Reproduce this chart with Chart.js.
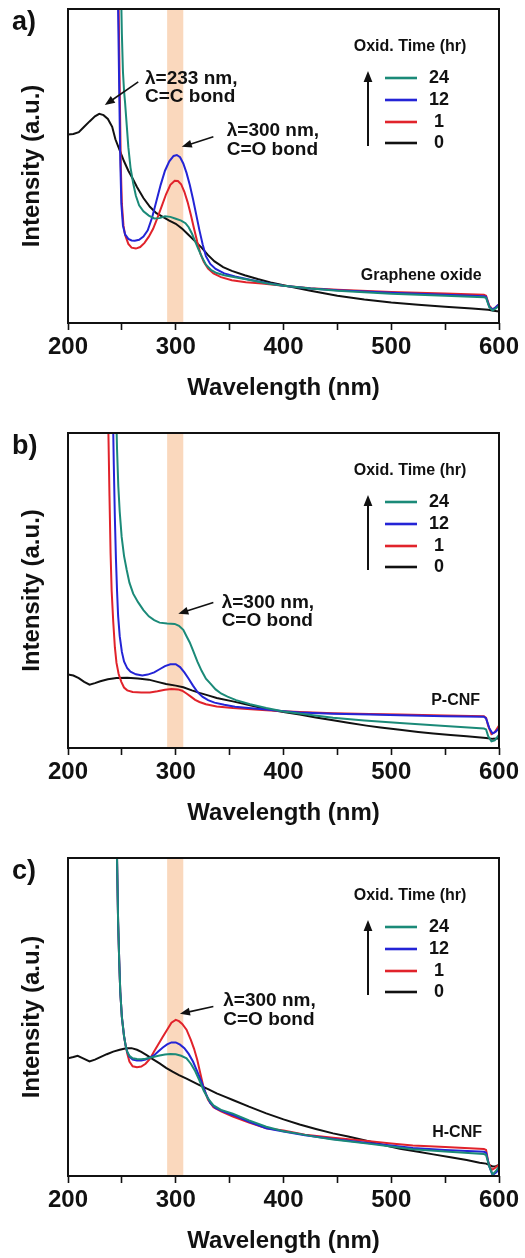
<!DOCTYPE html>
<html>
<head>
<meta charset="utf-8">
<title>UV-vis spectra</title>
<script src="https://cdn.jsdelivr.net/npm/chart.js@4.4.1/dist/chart.umd.min.js"></script>
<style>
  html, body { margin: 0; padding: 0; background: #fff; }
  body { position: relative; width: 525px; height: 1258px; overflow: hidden; }
  .panel { position: absolute; left: 0; width: 525px; }
</style>
</head>
<body>
<div class="panel" style="top:0px"><canvas id="chartA" width="525" height="420"></canvas></div>
<div class="panel" style="top:420px"><canvas id="chartB" width="525" height="420"></canvas></div>
<div class="panel" style="top:840px"><canvas id="chartC" width="525" height="418"></canvas></div>
<script>
/* 산화 시간별 UV-vis 흡수 스펙트럼 : [파장(nm), 세기(a.u.)] */
var oxidTimes = ['24', '12', '1', '0'];
var lineColors = ['#1b8a78', '#2424d6', '#e1232b', '#111111'];

var majorTicks = [200, 300, 400, 500, 600];
var minorTicks = [250, 350, 450, 550];
var bandNm = [292, 307];

// a) Graphene oxide
var goT24 = [[248,140],[249,110],[250,92],[251,80],[252,74],[253,70],[254.5,63],[256,56],[258,49.5],[260.5,44.5],[263,40.5],[266,37.5],[270,35.6],[275,34.2],[280,33.3],[285,33.4],[290,34],[295,33.8],[300,33.2],[305,32.6],[309,31.8],[312,30.5],[315,28.5],[318,26],[321,23.5],[324,21.2],[328,18.6],[333,16.8],[338,15.9],[345,15.2],[355,14.6],[370,13.6],[385,12.6],[400,11.9],[425,11.0],[450,10.3],[500,9.3],[550,8.7],[586,8.2],[588,8.0],[591,5],[594,4.0],[597,4.6],[600,5.5]];
var goT12 = [[245.5,140],[246.5,100],[247.5,75],[248.5,52],[249.5,38],[251,31],[253,28.2],[256,26.8],[259,26.3],[262,26.2],[266,26.5],[270,27.5],[274,29.5],[278,33.5],[282,38.8],[286,44],[290,48.5],[294,51.5],[298,53.2],[301,53.5],[304,52.8],[307,50.8],[310,47.8],[313,44],[316,39.5],[319,34.5],[322,29.5],[325,25],[328,21.3],[332,18.8],[337,17.2],[345,15.8],[355,14.8],[370,13.7],[385,12.7],[400,11.9],[425,11.0],[450,10.4],[500,9.6],[550,9.0],[586,8.5],[588,8.3],[591,5.2],[594,4.3],[597,5],[600,6]];
var goT1 = [[246,140],[247,100],[248,75],[249,50],[250,38],[251.5,31],[253,28],[256,25.2],[259,24],[263,23.7],[267,24.2],[271,25.5],[275,27.5],[279,30],[283,33.5],[287,37.2],[291,41],[295,44],[299,45.3],[302,45.2],[305,44.2],[308,41.8],[311,38.5],[314,34.5],[317,30],[320,25.8],[323,22],[326,19.5],[330,17.3],[335,15.8],[342,14.6],[352,13.6],[365,13],[380,12.6],[400,11.9],[425,11.1],[450,10.6],[500,9.9],[550,9.4],[586,9.0],[588,8.7],[591,5.5],[594,4.3],[597,5],[600,6]];
var goT0 = [[200,60.0],[205,60.2],[210,60.8],[215,62.5],[220,64.2],[225,65.8],[229,66.6],[233,66.2],[237,65.0],[241,62.5],[244,58.5],[248,55],[252,51.5],[256,48.5],[260,46],[264,43.3],[270,39.8],[276,37],[282,35],[288,33.8],[294,32.6],[300,31.6],[306,30],[312,28],[318,26],[324,24],[330,21.6],[336,19.6],[344,17.8],[352,16.6],[364,15.2],[376,14],[388,12.9],[400,12],[425,10.3],[450,8.7],[475,7.5],[500,6.5],[525,5.8],[550,5.2],[575,4.6],[590,4.2],[595,3.9],[600,3.7]];

// b) P-CNF
var pcT24 = [[243.5,140],[244.5,110],[245.5,95],[246.7,83],[248,75],[249.8,67],[252,61],[254.5,56.5],[257,52.5],[260.5,49],[265,46.3],[270,43.8],[275,41.8],[280,40.6],[285,39.8],[292,39.5],[299,39.4],[303,38.8],[307,37.5],[310,35.5],[313,33.5],[316,31],[320,27.5],[324,24.5],[328,22],[332,20.5],[337,18.6],[342,17.3],[348,16.3],[356,15.2],[369,13.9],[384,12.7],[400,11.6],[420,10.7],[446,9.6],[475,8.7],[508,7.9],[550,7.0],[586,6.2],[588,5.9],[590,3.7],[593,2.1],[596,2.4],[600,4.2]];
var pcT12 = [[240.5,140],[241.5,110],[242.5,90],[243.5,73],[244.5,60],[245.5,50],[246.5,42],[248,35.5],[250,30.5],[252,27.5],[255,25.3],[258,24.2],[263,23.4],[269,23],[274,23.3],[280,24],[285,25],[290,26],[295,26.6],[300,26.6],[304,25.7],[308,24],[312,22],[316,19.8],[320,17.8],[325,16.2],[330,15.2],[336,14.4],[345,13.7],[355,13.1],[370,12.6],[384,12.2],[400,11.7],[415,11.3],[446,10.9],[480,10.6],[508,10.4],[550,10.1],[586,9.9],[588,9.4],[591,6.3],[594,4.6],[597,5.2],[600,6.3]];
var pcT1 = [[236.5,140],[237.5,100],[238.5,80],[239.5,62],[240.5,50],[242,40],[243.5,32],[245,27],[247,23.5],[249.5,21],[252,19.2],[255,18.3],[260,17.8],[268,17.6],[276,17.6],[283,18],[290,18.5],[296,18.7],[302,18.6],[306,18.2],[310,17.3],[314,16.3],[318,15.3],[322,14.6],[328,13.9],[338,13.2],[353,12.7],[370,12.3],[384,12.0],[400,11.7],[415,11.4],[446,11.0],[480,10.8],[508,10.6],[550,10.3],[586,10.1],[588,9.6],[590,7],[593,4.4],[596,5.0],[600,7.1]];
var pcT0 = [[200,23.3],[205,23.0],[210,22.2],[215,21.0],[220,20.1],[225,20.6],[230,21.2],[237,21.8],[245,22.2],[255,22.3],[265,22.1],[275,21.7],[283,21],[291,20.3],[300,19.8],[307,19.3],[315,18.3],[322,17.5],[330,16.7],[338,15.9],[353,14.8],[370,13.5],[384,12.4],[400,11.4],[415,10.6],[430,9.7],[446,8.8],[460,8],[477,7.1],[490,6.5],[508,5.8],[525,5.1],[539,4.6],[555,4.1],[570,3.7],[588,3.2],[594,2.9],[600,3.0]];

// c) H-CNF
var hcT24 = [[244.5,140],[245.5,100],[246.5,80],[247.5,68],[248.5,58],[250,50],[252,44],[253.5,41],[255,39],[257,37.8],[260,37],[264,36.8],[268,36.7],[272,36.9],[276,37.2],[280,37.5],[285,37.9],[290,38.2],[295,38.4],[300,38.3],[305,37.8],[310,37],[314,35.3],[318,33],[322,30],[326,26.8],[330,24.3],[335,22.2],[342,20.8],[353,19.6],[368,17.5],[384,15.5],[400,14.1],[412,13.4],[430,12.3],[446,11.5],[480,10.1],[500,9.3],[520,8.4],[550,7.7],[586,6.9],[588,6.6],[591,3],[594,0.5],[597,1.5],[600,3]];
var hcT12 = [[244.5,140],[245.5,100],[246.5,80],[247.5,68],[248.5,58],[250,50],[252,44],[253.5,41],[255,39],[257,37.5],[260,36.6],[264,36.3],[268,36.3],[272,36.6],[276,37.2],[280,38],[284,39.2],[288,40.4],[292,41.4],[296,42],[300,42],[304,41.3],[308,40.2],[312,38.4],[316,36],[320,32.8],[324,29.5],[328,25.8],[332,23],[337,21.3],[345,20.2],[353,19.2],[368,17],[384,15],[400,14.0],[420,12.8],[446,11.6],[480,10.3],[500,9.6],[520,8.8],[550,8.2],[586,7.6],[588,7.3],[591,3],[594,0.3],[597,1],[600,2]];
var hcT1 = [[244.5,140],[245.5,100],[246.5,80],[247.5,68],[248.5,58],[250,50],[252,44],[253.5,41],[255,38.5],[257,36],[260,34.5],[264,34.2],[268,34.4],[272,35.3],[276,36.8],[280,39.2],[284,41.5],[288,43.8],[292,46],[296,48.2],[300,49.1],[303,48.7],[306,47.8],[310,46],[314,42.8],[317,40],[320,36.5],[323,32],[326,27.6],[330,24],[335,21.6],[342,20.3],[353,18.7],[368,16.8],[384,15],[400,14.3],[420,13],[446,12],[480,10.9],[500,10.2],[520,9.6],[550,9.1],[586,8.5],[588,8.2],[590,4.5],[593,1.9],[596,2.5],[600,3.5]];
var hcT0 = [[200,37.0],[205,37.4],[209,37.8],[214,37],[220,36.0],[225,36.6],[230,37.4],[236,38.3],[242,39.1],[248,39.7],[254,40.2],[259,40.2],[264,39.7],[268,39],[273,38],[279,36.7],[285,35.4],[291,34],[297,32.8],[303,31.7],[310,30.6],[316,29.6],[322,28.6],[330,27.3],[338,26],[346,24.9],[353,23.9],[368,21.8],[384,19.7],[400,17.8],[415,16.2],[430,14.8],[446,13.4],[460,12.4],[477,11.1],[490,10.0],[508,8.6],[525,7.6],[539,6.8],[555,5.9],[570,5.0],[582,4.2],[588,3.9],[594,3.0],[597,3.1],[600,3.5]];

var FONT = "'Liberation Sans', Arial, Helvetica, sans-serif";

/* 패널별 배치 (캔버스 안 좌표, 주석 위치는 데이터 좌표) */
var panels = [
  {
    canvas: 'chartA', tag: 'a)', height: 420, plotTop: 9, plotBottom: 323,
    series: [goT24, goT12, goT1, goT0],
    sample: { text: 'Graphene oxide', at: [584, 15] },
    notes: [
      { at: [271.5, 77.9], lines: ['\u03bb=233 nm,', 'C=C bond'], from: [265.2, 76.8], to: [234.2, 69.4] },
      { at: [347.3, 61.2], lines: ['\u03bb=300 nm,', 'C=O bond'], from: [334.9, 59.3], to: [305.6, 56.1] }
    ]
  },
  {
    canvas: 'chartB', tag: 'b)', height: 420, plotTop: 13, plotBottom: 328,
    series: [pcT24, pcT12, pcT1, pcT0],
    sample: { text: 'P-CNF', at: [582.4, 15] },
    notes: [
      { at: [342.6, 46.2], lines: ['\u03bb=300 nm,', 'C=O bond'], from: [334.9, 46.2], to: [302.4, 42.6] }
    ]
  },
  {
    canvas: 'chartC', tag: 'c)', height: 418, plotTop: 18, plotBottom: 336,
    series: [hcT24, hcT12, hcT1, hcT0],
    sample: { text: 'H-CNF', at: [584.2, 13.7] },
    notes: [
      { at: [344.1, 55.1], lines: ['\u03bb=300 nm,', 'C=O bond'], from: [334.9, 53.3], to: [303.9, 51.0] }
    ]
  }
];

function drawArrow(ctx, x1, y1, x2, y2, head) {
	var ang = Math.atan2(y2 - y1, x2 - x1);
	var c = Math.cos(ang), s = Math.sin(ang);
	ctx.beginPath();
	ctx.moveTo(x1, y1);
	ctx.lineTo(x2 - c * head * 0.8, y2 - s * head * 0.8);
	ctx.stroke();
	ctx.beginPath();
	ctx.moveTo(x2, y2);
	ctx.lineTo(x2 - head * c + head * 0.4 * s, y2 - head * s - head * 0.4 * c);
	ctx.lineTo(x2 - head * c - head * 0.4 * s, y2 - head * s + head * 0.4 * c);
	ctx.closePath();
	ctx.fill();
}

// 밴드, 테두리, 주석, 범례
function makeDeco(p) {
	return {
		id: 'deco',
		beforeDatasetsDraw: function(chart) {
			var ctx = chart.ctx, a = chart.chartArea, sx = chart.scales.x;
			var b0 = sx.getPixelForValue(bandNm[0]);
			var b1 = sx.getPixelForValue(bandNm[1]);
			ctx.save();
			ctx.fillStyle = '#fad8bd';
			ctx.fillRect(b0, a.top, b1 - b0, a.bottom - a.top);
			ctx.restore();
		},
		afterDatasetsDraw: function(chart) {
			var ctx = chart.ctx, a = chart.chartArea;
			var sx = chart.scales.x, sy = chart.scales.y;
			ctx.save();

			ctx.strokeStyle = '#111';
			ctx.lineWidth = 2;
			ctx.strokeRect(a.left, a.top, a.right - a.left, a.bottom - a.top);

			ctx.fillStyle = '#111';
			ctx.font = 'bold 19px ' + FONT;
			ctx.textAlign = 'left';
			ctx.textBaseline = 'middle';
			p.notes.forEach(function(n) {
				var tx = sx.getPixelForValue(n.at[0]);
				var ty = sy.getPixelForValue(n.at[1]);
				n.lines.forEach(function(t, i) {
					ctx.fillText(t, tx, ty + i * 18.5);
				});
				ctx.lineWidth = 1.6;
				drawArrow(ctx,
					sx.getPixelForValue(n.from[0]), sy.getPixelForValue(n.from[1]),
					sx.getPixelForValue(n.to[0]), sy.getPixelForValue(n.to[1]), 10);
			});

			ctx.font = 'bold 16px ' + FONT;
			ctx.textAlign = 'right';
			ctx.fillText(p.sample.text, sx.getPixelForValue(p.sample.at[0]), sy.getPixelForValue(p.sample.at[1]));

			// 범례 : Oxid. Time (hr)
			ctx.textAlign = 'center';
			ctx.fillText('Oxid. Time (hr)', a.right - 89, a.top + 38);
			var rows = [69, 91, 113, 134];
			ctx.font = 'bold 18px ' + FONT;
			chart.data.datasets.forEach(function(ds, i) {
				var y = a.top + rows[i];
				ctx.strokeStyle = ds.borderColor;
				ctx.lineWidth = 2.6;
				ctx.beginPath();
				ctx.moveTo(a.right - 114, y);
				ctx.lineTo(a.right - 82, y);
				ctx.stroke();
				ctx.fillText(ds.label, a.right - 60, y);
			});
			ctx.strokeStyle = '#111';
			ctx.lineWidth = 2;
			drawArrow(ctx, a.right - 131, a.top + 137, a.right - 131, a.top + 62, 11);

			ctx.font = 'bold 27px ' + FONT;
			ctx.textAlign = 'left';
			ctx.textBaseline = 'top';
			ctx.fillText(p.tag, 12, a.top);
			ctx.restore();
		}
	};
}

panels.forEach(function(p) {
	var datasets = p.series.map(function(data, i) {
		return {
			label: oxidTimes[i],
			data: data,
			borderColor: lineColors[i],
			borderWidth: 2,
			pointRadius: 0,
			tension: 0,
			fill: false
		};
	});

	new Chart(document.getElementById(p.canvas), {
		type: 'line',
		data: { datasets: datasets },
		options: {
			responsive: false,
			animation: false,
			events: [],
			layout: { padding: { top: p.plotTop, right: 26, left: 0, bottom: 0 } },
			plugins: { legend: { display: false }, tooltip: { enabled: false } },
			scales: {
				x: {
					type: 'linear',
					min: majorTicks[0],
					max: majorTicks[majorTicks.length - 1],
					afterBuildTicks: function(scale) {
						scale.ticks = majorTicks.concat(minorTicks).sort(function(m, n) { return m - n; })
							.map(function(v) { return { value: v }; });
					},
					afterFit: function(scale) { scale.height = p.height - p.plotBottom; },
					ticks: {
						autoSkip: false,
						maxRotation: 0,
						padding: 3,
						color: '#111',
						font: { family: FONT, size: 24, weight: 'bold' },
						callback: function(v) { return majorTicks.indexOf(v) >= 0 ? String(v) : ''; }
					},
					grid: { drawOnChartArea: false, drawTicks: true, tickLength: 7, tickWidth: 1.6, tickColor: '#111' },
					border: { display: false },
					title: {
						display: true,
						text: 'Wavelength (nm)',
						color: '#111',
						font: { family: FONT, size: 24, weight: 'bold' },
						padding: { top: 0, bottom: p.height - p.plotBottom - 65 - 14.4 }
					}
				},
				y: {
					min: 0,
					max: 100,
					afterFit: function(scale) { scale.width = 68; },
					ticks: { display: false },
					grid: { display: false },
					border: { display: false },
					title: {
						display: true,
						text: 'Intensity (a.u.)',
						color: '#111',
						font: { family: FONT, size: 24, weight: 'bold' },
						padding: { top: 18, bottom: 0 }
					}
				}
			}
		},
		plugins: [makeDeco(p)]
	});
});
</script>
</body>
</html>
